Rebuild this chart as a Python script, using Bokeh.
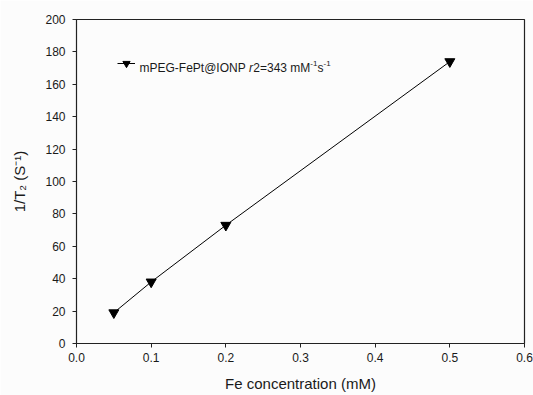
from bokeh.plotting import figure
from bokeh.models import Range1d, PrintfTickFormatter, FixedTicker, Label, Legend, LegendItem
from bokeh.embed import file_html
from bokeh.resources import INLINE

# ---- data ----
fe_conc = [0.05, 0.1, 0.2, 0.5]
inv_t2 = [19, 38, 73, 174]
x_ticks = [0.0, 0.1, 0.2, 0.3, 0.4, 0.5, 0.6]
y_ticks = [0, 20, 40, 60, 80, 100, 120, 140, 160, 180, 200]
series_name = "mPEG-FePt@IONP"
r2_value = "343"
x_title = "Fe concentration (mM)"
y_title = "1/T\u2082 (S\u207b\u00b9)"

FONT = "Liberation Sans"
TXT = "#1a1a1a"
AX = "#222222"
BG = "#fcfcfc"

W, H = 533, 395
L, R, T, B = 76, 9, 19, 52

p = figure(width=W, height=H, output_backend="svg", toolbar_location=None,
           x_range=Range1d(0, 0.6), y_range=Range1d(0, 200),
           min_border_left=L, min_border_right=R, min_border_top=T, min_border_bottom=B)
p.background_fill_color = BG
p.border_fill_color = BG
p.outline_line_color = AX
p.outline_line_width = 1.2
p.grid.visible = False

for ax in (p.xaxis[0], p.yaxis[0]):
    ax.axis_line_color = AX
    ax.major_tick_line_color = AX
    ax.major_tick_in = 0
    ax.major_tick_out = 4
    ax.minor_tick_line_color = None
    ax.major_label_text_font = FONT
    ax.major_label_text_font_size = "12px"
    ax.major_label_text_color = TXT
    ax.axis_label_text_font = FONT
    ax.axis_label_text_font_size = "15px"
    ax.axis_label_text_font_style = "normal"
    ax.axis_label_text_color = TXT

p.xaxis.ticker = FixedTicker(ticks=x_ticks)
p.yaxis.ticker = FixedTicker(ticks=y_ticks)
p.xaxis.formatter = PrintfTickFormatter(format="%.1f")
p.xaxis.major_label_standoff = 5
p.yaxis.major_label_standoff = 7
p.xaxis.axis_label = x_title
p.xaxis.axis_label_standoff = 10
p.yaxis.axis_label = y_title
p.yaxis.axis_label_standoff = 14

line_r = p.line(fe_conc, inv_t2, line_color="black", line_width=1)
mark_r = p.scatter(fe_conc, inv_t2, marker="inverted_triangle", size=10,
                   fill_color="black", line_color="black")

# legend glyph only (text drawn separately for mixed styles)
leg = Legend(items=[LegendItem(label=" ", renderers=[line_r, mark_r])],
             location=(41, 270), margin=0, padding=0, spacing=0,
             glyph_width=18, glyph_height=20, label_standoff=0,
             border_line_color=None, background_fill_alpha=0,
             label_text_font_size="1px")
p.add_layout(leg, "center")

# Arial / Liberation Sans advance widths (per 1000 em)
ADV = {'m': 833, 'P': 667, 'E': 667, 'G': 778, '-': 333, 'F': 611, 'e': 556, 't': 278,
       '@': 1015, 'I': 278, 'O': 778, 'N': 722, ' ': 278, 'r': 333, '2': 556, '=': 584,
       '3': 556, '4': 556, 'M': 833, '1': 556, 's': 500}

def tw(s, size):
    return sum(ADV.get(c, 556) for c in s) * size / 1000.0

frame_w = W - L - R
frame_h = H - T - B

def px_to_data(xp, yp):
    return ((xp - L) / frame_w * 0.6, (H - B - yp) / frame_h * 200)

# legend text pieces: (text, size, style, baseline shift up)
pieces = [(series_name + " ", 12, "normal", 0), ("r", 12, "italic", 0),
          ("2=" + r2_value + " mM", 12, "normal", 0), ("-1", 8, "normal", 4.5),
          ("s", 12, "normal", 0), ("-1", 8, "normal", 4.5)]
xp = 139.0
base = 67.0
for txt, sz, st, up in pieces:
    dx, dy = px_to_data(xp, base - up)
    p.add_layout(Label(x=dx, y=dy, text=txt, text_font=FONT, text_font_size=f"{sz}px",
                       text_font_style=st, text_color=TXT, text_baseline="alphabetic",
                       text_align="left"))
    xp += tw(txt, sz) + (0.3 if st == "italic" else 0)

open("out.html", "w").write(file_html(p, INLINE))
